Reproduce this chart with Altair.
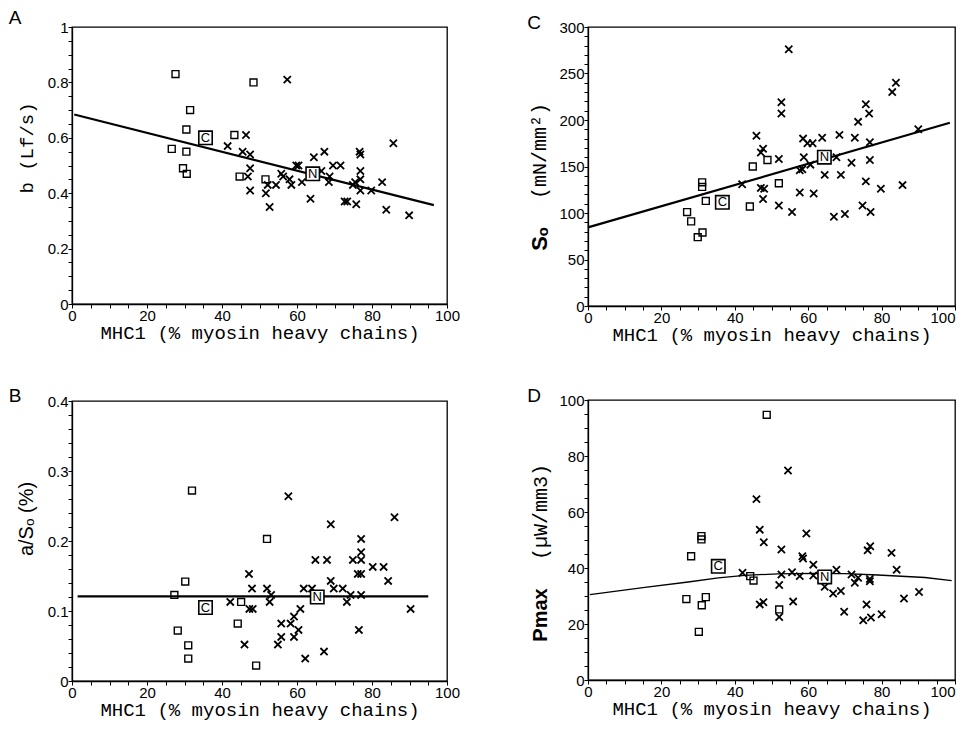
import altair as alt
import pandas as pd

SANS = "Liberation Sans"
MONO = "Liberation Mono"
CROSS = "M-1,-1L1,1M-1,1L1,-1"

# ---------------- Panel A : b (Lf/s) ----------------
a_sq_x = [27.6, 48.4, 31.5, 30.5, 26.6, 30.5, 29.6, 30.6, 43.3, 44.7, 51.6]
a_sq_y = [0.83, 0.80, 0.70, 0.63, 0.56, 0.55, 0.49, 0.47, 0.61, 0.46, 0.45]
a_cr_x = [57.4, 46.4, 41.5, 45.5, 47.5, 47.5, 46.9, 47.5, 51.7, 52.7, 52.2, 54.4, 55.8, 56.3, 58.0,
          58.5, 59.8, 60.4, 61.3, 63.6, 64.5, 67.3, 66.5, 68.7, 68.5, 69.6, 71.6, 72.7, 73.4, 74.9,
          75.5, 75.8, 76.7, 76.9, 76.9, 76.9, 76.9, 79.8, 82.7, 83.8, 85.7, 89.9]
a_cr_y = [0.81, 0.61, 0.57, 0.55, 0.54, 0.49, 0.46, 0.41, 0.40, 0.35, 0.43, 0.43, 0.47, 0.46, 0.45,
          0.43, 0.50, 0.50, 0.44, 0.38, 0.53, 0.55, 0.48, 0.46, 0.44, 0.50, 0.50, 0.37, 0.37, 0.43,
          0.44, 0.36, 0.55, 0.54, 0.48, 0.45, 0.41, 0.41, 0.44, 0.34, 0.58, 0.32]
a_mean_x = [35.6, 64.2]
a_mean_y = [0.60, 0.47]
a_line_x = [0.6, 96.5]
a_line_y = [0.684, 0.357]
a_yticks = [0, 0.05, 0.1, 0.15, 0.2, 0.25, 0.3, 0.35, 0.4, 0.45, 0.5, 0.55, 0.6, 0.65, 0.7, 0.75,
            0.8, 0.85, 0.9, 0.95, 1.0]

# ---------------- Panel C : So (mN/mm2) ----------------
c_sq_x = [31.1, 31.1, 32.1, 27.0, 28.1, 31.2, 29.9, 44.9, 48.9, 52.0, 44.1]
c_sq_y = [133, 128, 113, 101, 91, 79, 74, 150, 157, 132, 107]
c_cr_x = [54.7, 52.7, 52.7, 45.9, 47.7, 47.1, 52.0, 42.0, 47.1, 48.0, 47.7, 52.0, 55.6, 57.7, 58.4,
          57.7, 58.8, 58.6, 59.8, 61.2, 60.6, 63.8, 64.5, 61.5, 67.0, 68.9, 68.5, 70.0, 67.7, 71.8,
          72.7, 73.6, 75.7, 76.6, 76.8, 76.8, 75.7, 74.8, 77.0, 79.8, 82.9, 83.9, 85.7, 90.0]
c_cr_y = [276, 219, 207, 183, 169, 165, 158, 131, 127, 126, 115, 108, 101, 122, 147,
          146, 160, 180, 175, 175, 152, 181, 141, 121, 96, 141, 184, 99, 160, 154,
          181, 198, 217, 207, 176, 157, 134, 108, 101, 126, 230, 240, 130, 190]
c_mean_x = [36.6, 64.4]
c_mean_y = [111.5, 160]
c_line_x = [0, 98.6]
c_line_y = [84.5, 197]
c_yticks = list(range(0, 301, 10))

# ---------------- Panel B : a/So (%) ----------------
b_sq_x = [32.0, 30.2, 27.3, 28.2, 31.0, 31.0, 52.0, 45.1, 44.2, 49.1]
b_sq_y = [0.272, 0.142, 0.123, 0.072, 0.051, 0.032, 0.203, 0.113, 0.082, 0.022]
b_cr_x = [57.7, 69.0, 86.0, 77.1, 77.1, 74.9, 77.1, 64.9, 68.0, 80.2, 83.1, 76.2, 77.1, 84.3, 69.0,
          47.2, 48.0, 52.0, 61.8, 64.0, 69.8, 72.2, 53.1, 74.3, 77.1, 42.2, 52.7, 73.3, 47.3, 48.2,
          60.9, 90.3, 59.2, 55.8, 58.3, 60.4, 76.5, 55.8, 59.2, 46.0, 54.9, 67.2, 62.2]
b_cr_y = [0.264, 0.224, 0.234, 0.203, 0.184, 0.173, 0.173, 0.173, 0.173, 0.163, 0.163, 0.153, 0.153,
          0.143, 0.143, 0.153, 0.132, 0.132, 0.132, 0.132, 0.132, 0.132, 0.123, 0.123, 0.123, 0.113,
          0.113, 0.113, 0.103, 0.103, 0.103, 0.103, 0.092, 0.082, 0.082, 0.073, 0.073, 0.063, 0.063,
          0.052, 0.052, 0.042, 0.032]
b_mean_x = [35.6, 65.4]
b_mean_y = [0.105, 0.120]
b_line_x = [1.5, 95.0]
b_line_y = [0.121, 0.121]
b_yticks = [0, 0.02, 0.04, 0.06, 0.08, 0.1, 0.12, 0.14, 0.16, 0.18, 0.2, 0.22, 0.24, 0.26, 0.28, 0.3,
            0.32, 0.34, 0.36, 0.38, 0.4]

# ---------------- Panel D : Pmax (uW/mm3) ----------------
d_sq_x = [48.7, 30.9, 30.9, 28.1, 26.8, 32.1, 31.0, 30.2, 44.2, 45.1, 52.1]
d_sq_y = [94.7, 51.4, 50.2, 44.2, 28.9, 29.6, 26.7, 17.2, 37.1, 35.5, 25.2]
d_cr_x = [54.5, 45.9, 46.8, 47.9, 59.5, 52.7, 58.4, 58.6, 61.4, 76.2, 76.9, 82.7, 84.1, 42.1, 52.7,
          55.6, 57.7, 61.4, 67.7, 71.8, 73.6, 76.8, 76.8, 72.7, 64.5, 66.8, 68.9, 52.1, 46.8, 47.8,
          55.9, 69.8, 75.9, 75.0, 77.1, 80.0, 86.1, 90.2, 52.1]
d_cr_y = [74.8, 64.6, 53.7, 49.2, 52.3, 46.6, 44.2, 43.4, 41.2, 46.3, 47.8, 45.4, 39.4, 38.3, 37.7,
          38.5, 37.1, 37.3, 39.4, 37.7, 36.5, 36.1, 35.3, 34.7, 33.3, 30.9, 31.8, 33.9, 27.0, 27.8,
          28.0, 24.4, 27.0, 21.3, 22.3, 23.5, 29.1, 31.4, 22.5]
d_mean_x = [35.5, 64.5]
d_mean_y = [40.6, 36.8]
d_line_x = [0.5, 15.5, 27.3, 35.5, 42.7, 51.8, 60.9, 70.0, 79.0, 91.8, 99.1]
d_line_y = [30.5, 33.1, 35.0, 36.5, 37.4, 37.9, 38.1, 38.0, 37.5, 36.6, 35.5]
d_yticks = list(range(0, 101, 5))

x_ticks = list(range(0, 101, 5))
mean_labels = ["C", "N"]
x_title = "MHC1 (% myosin heavy chains)"


def label_layer(text, x, y, font, size, weight="normal", angle=0):
    return alt.Chart(pd.DataFrame({"t": [text]})).mark_text(
        font=font, fontSize=size, fontWeight=weight, color="black", angle=angle,
        align="center", baseline="middle"
    ).encode(x=alt.value(x), y=alt.value(y), text="t:N")


def panel(sq_x, sq_y, cr_x, cr_y, ln_x, ln_y, m_x, m_y, ydom, yticks, major_expr,
          line_w, letter, letter_pos, titles, w, h, right_col):
    xaxis_kw = dict(values=x_ticks, format="~r",
                    labelExpr="datum.value % 20 == 0 ? datum.label : ''",
                    title=x_title)
    if right_col:
        xaxis_kw["labelAlign"] = {"condition": {"test": "datum.value == 100", "value": "right"},
                                  "value": "center"}
    xenc = alt.X("x:Q", scale=alt.Scale(domain=[0, 100], nice=False, zero=False),
                 axis=alt.Axis(**xaxis_kw))
    yenc = alt.Y("y:Q", scale=alt.Scale(domain=ydom, nice=False, zero=False),
                 axis=alt.Axis(values=yticks, format="~r",
                               labelExpr=major_expr + " ? datum.label : ''", title=None))
    sq = alt.Chart(pd.DataFrame({"x": sq_x, "y": sq_y})).mark_point(
        shape="square", size=48, filled=False, color="black", strokeWidth=1.4, opacity=1
    ).encode(x=xenc, y=yenc)
    cr = alt.Chart(pd.DataFrame({"x": cr_x, "y": cr_y})).mark_point(
        shape=CROSS, size=52, filled=False, color="black", strokeWidth=1.8, opacity=1
    ).encode(x=xenc, y=yenc)
    ln = alt.Chart(pd.DataFrame({"x": ln_x, "y": ln_y})).mark_line(
        color="black", strokeWidth=line_w
    ).encode(x=xenc, y=yenc)
    mdf = pd.DataFrame({"x": m_x, "y": m_y, "t": mean_labels})
    box = alt.Chart(mdf).mark_point(
        shape="square", size=180, filled=True, fill="white", stroke="black",
        strokeWidth=1.6, opacity=1
    ).encode(x=xenc, y=yenc)
    txt = alt.Chart(mdf).mark_text(
        font=SANS, fontSize=13, color="black", baseline="middle", align="center"
    ).encode(x=xenc, y=yenc, text="t:N")
    layers = [ln, sq, cr, box, txt,
              label_layer(letter, letter_pos[0], letter_pos[1], SANS, 19)]
    for (t, x, y, f, s, wt) in titles:
        layers.append(label_layer(t, x, y, f, s, wt, 270))
    return alt.layer(*layers).properties(width=w, height=h)


pA = panel(a_sq_x, a_sq_y, a_cr_x, a_cr_y, a_line_x, a_line_y, a_mean_x, a_mean_y,
           [0, 1], a_yticks, "round(datum.value*100) % 20 == 0", 2.2, "A", (-57, -9),
           [("b  (Lf/s)", -45, 121, MONO, 19, "normal")], 375, 277, False)
pC = panel(c_sq_x, c_sq_y, c_cr_x, c_cr_y, c_line_x, c_line_y, c_mean_x, c_mean_y,
           [0, 300], c_yticks, "datum.value % 50 == 0", 2.2, "C", (-54, -4),
           [("S\u2092", -48, 212, SANS, 22, "bold"), ("(mN/mm\u00b2)", -48, 124, MONO, 20, "normal")],
           367, 279, True)
pB = panel(b_sq_x, b_sq_y, b_cr_x, b_cr_y, b_line_x, b_line_y, b_mean_x, b_mean_y,
           [0, 0.4], b_yticks, "round(datum.value*100) % 10 == 0", 2.2, "B", (-57, -5),
           [("a/S\u2092 (%)", -45, 118, SANS, 20, "normal")], 375, 280, False)
pD = panel(d_sq_x, d_sq_y, d_cr_x, d_cr_y, d_line_x, d_line_y, d_mean_x, d_mean_y,
           [0, 100], d_yticks, "datum.value % 20 == 0", 1.3, "D", (-54, -4),
           [("Pmax", -47, 215, SANS, 20, "bold"), ("(\u00b5W/mm3)", -47, 112, MONO, 20, "normal")],
           367, 280, True)

chart = alt.hconcat(
    alt.vconcat(pA, pB, spacing=43),
    alt.vconcat(pC, pD, spacing=41),
    spacing=65,
).properties(padding=0).configure(
    background="white"
).configure_view(
    stroke="black", strokeWidth=1.3
).configure_axis(
    grid=False, domainColor="black", domainWidth=1.3, tickColor="black", tickWidth=1,
    tickSize=4, labelFont=SANS, labelFontSize=15, labelColor="black", labelPadding=0,
    titleFont=MONO, titleFontSize=19, titleFontWeight="normal", titleColor="black",
    titlePadding=0, labelFlush=False, labelOverlap=False
)

chart.save("out.html", embed_options={"renderer": "svg", "actions": False})
